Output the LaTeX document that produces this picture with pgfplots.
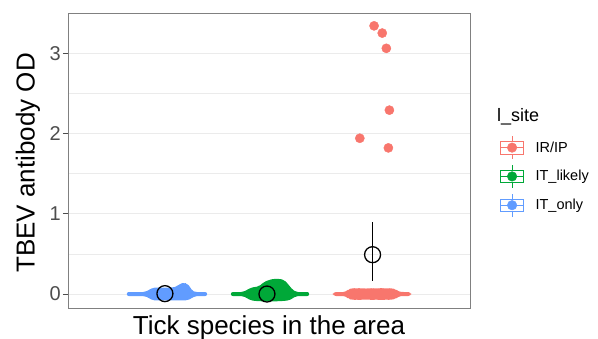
\documentclass[border=0pt]{standalone}
\usepackage{pgfplots}
\pgfplotsset{compat=1.18}
\usepackage{fontspec}
\setmainfont{Liberation Sans}
\definecolor{cR}{HTML}{F8766D}
\definecolor{cG}{HTML}{00A838}
\definecolor{cB}{HTML}{619CFF}
\definecolor{gridc}{HTML}{EBEBEB}
\definecolor{tickc}{HTML}{4D4D4D}
\begin{document}
\begin{tikzpicture}
\useasboundingbox (0,0) rectangle (598pt,338pt);
\begin{axis}[at={(68pt,30pt)}, anchor=south west, width=402pt, height=295pt, scale only axis,
 xmin=0.03, xmax=3.97, ymin=-0.174, ymax=3.5,
 xtick=\empty, ytick={0,1,2,3}, minor ytick={0.5,1.5,2.5},
 ymajorgrids, yminorgrids,
 major grid style={gridc, line width=0.9pt}, minor grid style={gridc, line width=0.6pt},
 axis line style={black!50, line width=0.8pt},
 ytick pos=left, tick align=outside, major tick length=5pt, minor tick length=0pt,
 tick style={black!70, line width=0.8pt},
 yticklabel style={font=\fontsize{20}{24}\selectfont, text=tickc, inner sep=0pt, xshift=-2pt},
 /pgf/number format/assume math mode=true,
 xlabel={Tick species in the area}, ylabel={TBEV antibody OD},
 label style={font=\fontsize{26}{31}\selectfont},
 xlabel style={at={(axis description cs:0.5,-0.0237)}, anchor=north, inner sep=0pt},
 ylabel style={at={(axis description cs:-0.0995,0.4915)}, anchor=center, inner sep=0pt},
 legend style={at={(axis description cs:1.0746,0.5847)}, anchor=north west, draw=none, fill=none,
   inner sep=0pt, font=\fontsize{14.5}{17}\selectfont, row sep=5pt, nodes={inner sep=0pt}},
 legend cell align=left,
 clip=false]
% violins
\addplot[fill=cB, draw=none, rounded corners=2pt, forget plot] coordinates {
(0.606,0.025) (0.783,0.025) (0.823,0.05) (0.862,0.08) (0.951,0.08) (1.049,0.08) (1.099,0.095) (1.128,0.13) (1.167,0.14) (1.197,0.13) (1.227,0.09) (1.246,0.04) (1.276,0.025) (1.394,0.025)
(1.394,-0.025) (1.276,-0.025) (1.246,-0.05) (1.197,-0.08) (1.099,-0.08) (0.901,-0.08) (0.862,-0.08) (0.823,-0.05) (0.783,-0.025) (0.606,-0.025)} -- cycle;
\addplot[fill=cG, draw=none, rounded corners=2pt, forget plot] coordinates {
(1.626,0.025) (1.744,0.025) (1.783,0.05) (1.823,0.08) (1.901,0.095) (1.951,0.15) (2.0,0.175) (2.049,0.19) (2.099,0.19) (2.148,0.175) (2.177,0.14) (2.207,0.09) (2.236,0.05) (2.266,0.025) (2.394,0.025)
(2.394,-0.025) (2.266,-0.025) (2.236,-0.05) (2.197,-0.08) (2.099,-0.09) (1.901,-0.09) (1.823,-0.08) (1.783,-0.05) (1.744,-0.025) (1.626,-0.025)} -- cycle;
\addplot[fill=cR, draw=none, rounded corners=3pt, forget plot] coordinates {
(2.626,0.025) (2.754,0.025) (2.775,0.055) (2.815,0.075) (2.86,0.068) (2.90,0.075) (2.95,0.065) (3.00,0.075) (3.05,0.068) (3.10,0.075) (3.15,0.068) (3.20,0.075) (3.245,0.055) (3.27,0.03) (3.296,0.025) (3.394,0.025)
(3.394,-0.025) (3.296,-0.025) (3.27,-0.03) (3.245,-0.055) (3.20,-0.075) (3.15,-0.068) (3.10,-0.075) (3.05,-0.068) (3.00,-0.075) (2.95,-0.065) (2.90,-0.075) (2.86,-0.068) (2.815,-0.075) (2.775,-0.055) (2.754,-0.025) (2.626,-0.025)} -- cycle;
% red outliers
\addplot[only marks, mark=*, mark size=4.6pt, cR, mark options={draw=none}, forget plot] coordinates {
(3.03,3.34) (3.11,3.25) (3.15,3.06) (3.18,2.29) (2.89,1.94) (3.17,1.82)};
% error bar
\addplot[black, line width=1.2pt, forget plot] coordinates {(3.015,0.165) (3.015,0.90)};
% means
\addplot[only marks, mark=o, mark size=8pt, black, mark options={line width=1.3pt}, forget plot] coordinates {
(0.98,0.005) (1.98,0.0) (3.015,0.49)};
% legend
\addlegendimage{legend image code/.code={
 \draw[cR, line width=0.8pt] (0pt,-6.3pt) rectangle (23pt,6.3pt);
 \draw[cR, line width=0.8pt] (0pt,0pt) -- (23pt,0pt);
 \draw[cR, line width=0.8pt] (11.5pt,6.3pt) -- (11.5pt,11.5pt);
 \draw[cR, line width=0.8pt] (11.5pt,-6.3pt) -- (11.5pt,-11.5pt);
 \fill[cR] (11.5pt,0pt) circle (4.8pt);
 \path[draw=none, fill=none] (0pt,0pt) rectangle (35pt,0.1pt);}}
\addlegendentry{IR/IP}
\addlegendimage{legend image code/.code={
 \draw[cG, line width=0.8pt] (0pt,-6.3pt) rectangle (23pt,6.3pt);
 \draw[cG, line width=0.8pt] (0pt,0pt) -- (23pt,0pt);
 \draw[cG, line width=0.8pt] (11.5pt,6.3pt) -- (11.5pt,11.5pt);
 \draw[cG, line width=0.8pt] (11.5pt,-6.3pt) -- (11.5pt,-11.5pt);
 \fill[cG] (11.5pt,0pt) circle (4.8pt);
 \path[draw=none, fill=none] (0pt,0pt) rectangle (35pt,0.1pt);}}
\addlegendentry{IT\_likely}
\addlegendimage{legend image code/.code={
 \draw[cB, line width=0.8pt] (0pt,-6.3pt) rectangle (23pt,6.3pt);
 \draw[cB, line width=0.8pt] (0pt,0pt) -- (23pt,0pt);
 \draw[cB, line width=0.8pt] (11.5pt,6.3pt) -- (11.5pt,11.5pt);
 \draw[cB, line width=0.8pt] (11.5pt,-6.3pt) -- (11.5pt,-11.5pt);
 \fill[cB] (11.5pt,0pt) circle (4.8pt);
 \path[draw=none, fill=none] (0pt,0pt) rectangle (35pt,0.1pt);}}
\addlegendentry{IT\_only}
\end{axis}
\node[anchor=base west, inner sep=0pt, font=\fontsize{18}{22}\selectfont] at (497pt,216pt) {l\_site};
\end{tikzpicture}
\end{document}
